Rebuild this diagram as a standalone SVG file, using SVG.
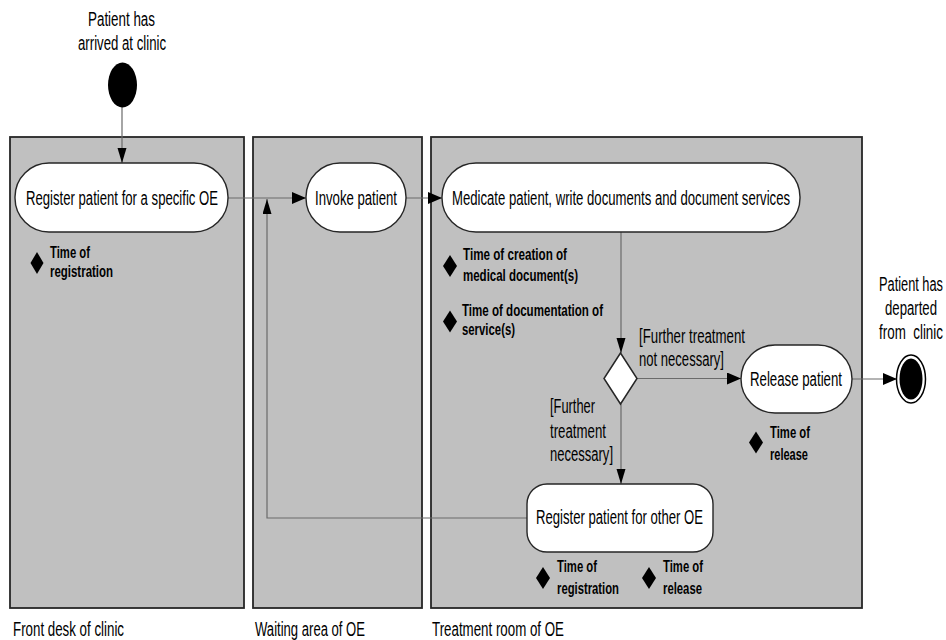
<svg xmlns="http://www.w3.org/2000/svg" width="946" height="640" viewBox="0 0 946 640">
<style>
.lane{fill:#c0c0c0;stroke:#262626;stroke-width:1.8}
.node{fill:#fff;stroke:#262626;stroke-width:1.4}
.t{font-family:"Liberation Sans Narrow","Liberation Sans",Arial,sans-serif;font-size:19.5px;fill:#000}
.b{font-family:"Liberation Sans Narrow","Liberation Sans",Arial,sans-serif;font-size:17px;font-weight:bold;fill:#000}
.edge{fill:none;stroke:#6a6a6a;stroke-width:1.2}
.mark{fill:#000}
</style>
<defs>
<marker id="ah" markerUnits="userSpaceOnUse" markerWidth="16" markerHeight="14" refX="14" refY="6" orient="auto"><path d="M0,0 L14,6 L0,12 z" fill="#000"/></marker>
<marker id="av" markerUnits="userSpaceOnUse" markerWidth="17" markerHeight="10" refX="15" refY="4.5" orient="auto"><path d="M0,0 L15,4.5 L0,9 z" fill="#000"/></marker>
</defs>
<g id="lanes">
<rect class="lane" x="10" y="137" width="234" height="471"/>
<rect class="lane" x="253" y="137" width="169" height="471"/>
<rect class="lane" x="431" y="137" width="431" height="471"/>
<text class="t" x="13" y="636" textLength="111" lengthAdjust="spacingAndGlyphs">Front desk of clinic</text>
<text class="t" x="255" y="636" textLength="110" lengthAdjust="spacingAndGlyphs">Waiting area of OE</text>
<text class="t" x="432" y="636" textLength="132" lengthAdjust="spacingAndGlyphs">Treatment room of OE</text>
</g>
<g id="connectors">
<path class="edge" d="M122,107 V163" marker-end="url(#av)"/>
<path class="edge" d="M228,198 H306" marker-end="url(#ah)"/>
<path class="edge" d="M527,518 H267 V199" marker-end="url(#av)"/>
<path class="edge" d="M406,198 H442" marker-end="url(#ah)"/>
<path class="edge" d="M621,232 V353" marker-end="url(#av)"/>
<path class="edge" d="M637,378.5 H741" marker-end="url(#ah)"/>
<path class="edge" d="M621,404 V484" marker-end="url(#av)"/>
<path class="edge" d="M852,379 H897" marker-end="url(#ah)"/>
</g>
<g id="start">
<ellipse cx="122.5" cy="85" rx="14.5" ry="22.5" fill="#000"/>
<text class="t" x="88" y="26" textLength="67" lengthAdjust="spacingAndGlyphs">Patient has</text>
<text class="t" x="78" y="50" textLength="88" lengthAdjust="spacingAndGlyphs">arrived at clinic</text>
</g>
<g id="register">
<rect class="node" x="15" y="163" width="213" height="69" rx="34" ry="34"/>
<text class="t" x="26" y="205" textLength="192" lengthAdjust="spacingAndGlyphs">Register patient for a specific OE</text>
<path class="mark" d="M37,252 L43.5,263 L37,274 L30.5,263 z"/>
<text class="b" x="50" y="258" textLength="40" lengthAdjust="spacingAndGlyphs">Time of</text>
<text class="b" x="50" y="277" textLength="63" lengthAdjust="spacingAndGlyphs">registration</text>
</g>
<g id="invoke">
<rect class="node" x="306" y="163" width="100" height="69" rx="34" ry="34"/>
<text class="t" x="315" y="205" textLength="82" lengthAdjust="spacingAndGlyphs">Invoke patient</text>
</g>
<g id="medicate">
<rect class="node" x="442" y="163" width="358" height="69" rx="34" ry="34"/>
<text class="t" x="452" y="205" textLength="338" lengthAdjust="spacingAndGlyphs">Medicate patient, write documents and document services</text>
<path class="mark" d="M450,255 L457,266 L450,277 L443,266 z"/>
<text class="b" x="463" y="260" textLength="104" lengthAdjust="spacingAndGlyphs">Time of creation of</text>
<text class="b" x="463" y="281" textLength="115" lengthAdjust="spacingAndGlyphs">medical document(s)</text>
<path class="mark" d="M450,310.5 L457,321.5 L450,332.5 L443,321.5 z"/>
<text class="b" x="462" y="316" textLength="141" lengthAdjust="spacingAndGlyphs">Time of documentation of</text>
<text class="b" x="462" y="335" textLength="53" lengthAdjust="spacingAndGlyphs">service(s)</text>
</g>
<g id="decision">
<path d="M620.5,353 L637,378.5 L620.5,404 L604,378.5 z" fill="#fff" stroke="#262626" stroke-width="1.5"/>
<text class="t" x="639" y="343" textLength="106" lengthAdjust="spacingAndGlyphs">[Further treatment</text>
<text class="t" x="639" y="366" textLength="85" lengthAdjust="spacingAndGlyphs">not necessary]</text>
<text class="t" x="550" y="413" textLength="45" lengthAdjust="spacingAndGlyphs">[Further</text>
<text class="t" x="550" y="438" textLength="56" lengthAdjust="spacingAndGlyphs">treatment</text>
<text class="t" x="550" y="461" textLength="63" lengthAdjust="spacingAndGlyphs">necessary]</text>
</g>
<g id="release">
<rect class="node" x="741" y="345" width="111" height="68" rx="34" ry="34"/>
<text class="t" x="750" y="386" textLength="92" lengthAdjust="spacingAndGlyphs">Release patient</text>
<path class="mark" d="M756,431.5 L763,442.5 L756,453.5 L749,442.5 z"/>
<text class="b" x="770" y="438" textLength="40" lengthAdjust="spacingAndGlyphs">Time of</text>
<text class="b" x="770" y="460" textLength="38" lengthAdjust="spacingAndGlyphs">release</text>
</g>
<g id="end">
<ellipse cx="911" cy="379" rx="14.5" ry="24" fill="#fff" stroke="#000" stroke-width="1.5"/>
<ellipse cx="911" cy="379" rx="11.5" ry="20.5" fill="#000"/>
<text class="t" x="879" y="291" textLength="64" lengthAdjust="spacingAndGlyphs">Patient has</text>
<text class="t" x="885" y="315" textLength="52" lengthAdjust="spacingAndGlyphs">departed</text>
<text class="t" x="879" y="339" textLength="64" lengthAdjust="spacingAndGlyphs" style="white-space:pre">from  clinic</text>
</g>
<g id="register-other">
<rect class="node" x="527" y="484" width="186" height="68" rx="20" ry="20"/>
<text class="t" x="536" y="524" textLength="167" lengthAdjust="spacingAndGlyphs">Register patient for other OE</text>
<path class="mark" d="M543,567 L550,578 L543,589 L536,578 z"/>
<text class="b" x="557" y="572" textLength="40" lengthAdjust="spacingAndGlyphs">Time of</text>
<text class="b" x="557" y="594" textLength="62" lengthAdjust="spacingAndGlyphs">registration</text>
<path class="mark" d="M649,567 L656,578 L649,589 L642,578 z"/>
<text class="b" x="663" y="572" textLength="40" lengthAdjust="spacingAndGlyphs">Time of</text>
<text class="b" x="663" y="594" textLength="39" lengthAdjust="spacingAndGlyphs">release</text>
</g>
</svg>
